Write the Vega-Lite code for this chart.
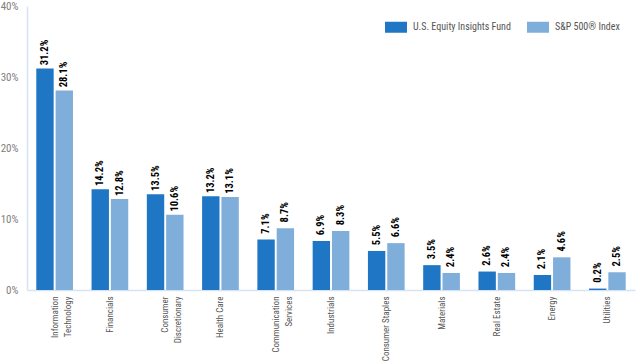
{
  "$schema": "https://vega.github.io/schema/vega-lite/v6.json",
  "autosize": "none",
  "width": 608,
  "height": 284,
  "padding": {"left": 27, "top": 6, "right": 2, "bottom": 71},
  "background": "white",
  "config": {
    "view": {"stroke": null},
    "font": "Liberation Sans Narrow, Roboto Condensed, DejaVu Sans Condensed, sans-serif",
    "axis": {"grid": false, "ticks": false, "domainColor": "#d5e3f3", "domainWidth": 1.5, "labelFont": "Liberation Sans Narrow, Roboto Condensed, DejaVu Sans Condensed, sans-serif", "labelFontSize": 9},
    "legend": {"labelFont": "Liberation Sans Narrow, Roboto Condensed, DejaVu Sans Condensed, sans-serif"}
  },
  "data": {
    "values": [
      {"sector": "Information Technology", "series": "U.S. Equity Insights Fund", "value": 0.312},
      {"sector": "Information Technology", "series": "S&P 500® Index", "value": 0.281},
      {"sector": "Financials", "series": "U.S. Equity Insights Fund", "value": 0.142},
      {"sector": "Financials", "series": "S&P 500® Index", "value": 0.128},
      {"sector": "Consumer Discretionary", "series": "U.S. Equity Insights Fund", "value": 0.135},
      {"sector": "Consumer Discretionary", "series": "S&P 500® Index", "value": 0.106},
      {"sector": "Health Care", "series": "U.S. Equity Insights Fund", "value": 0.132},
      {"sector": "Health Care", "series": "S&P 500® Index", "value": 0.131},
      {"sector": "Communication Services", "series": "U.S. Equity Insights Fund", "value": 0.071},
      {"sector": "Communication Services", "series": "S&P 500® Index", "value": 0.087},
      {"sector": "Industrials", "series": "U.S. Equity Insights Fund", "value": 0.069},
      {"sector": "Industrials", "series": "S&P 500® Index", "value": 0.083},
      {"sector": "Consumer Staples", "series": "U.S. Equity Insights Fund", "value": 0.055},
      {"sector": "Consumer Staples", "series": "S&P 500® Index", "value": 0.066},
      {"sector": "Materials", "series": "U.S. Equity Insights Fund", "value": 0.035},
      {"sector": "Materials", "series": "S&P 500® Index", "value": 0.024},
      {"sector": "Real Estate", "series": "U.S. Equity Insights Fund", "value": 0.026},
      {"sector": "Real Estate", "series": "S&P 500® Index", "value": 0.024},
      {"sector": "Energy", "series": "U.S. Equity Insights Fund", "value": 0.021},
      {"sector": "Energy", "series": "S&P 500® Index", "value": 0.046},
      {"sector": "Utilities", "series": "U.S. Equity Insights Fund", "value": 0.002},
      {"sector": "Utilities", "series": "S&P 500® Index", "value": 0.025}
    ]
  },
  "encoding": {
    "x": {
      "field": "sector", "type": "nominal",
      "sort": ["Information Technology", "Financials", "Consumer Discretionary", "Health Care", "Communication Services", "Industrials", "Consumer Staples", "Materials", "Real Estate", "Energy", "Utilities"],
      "scale": {"paddingInner": 0.336, "paddingOuter": 0.168},
      "axis": {
        "title": null, "labelAngle": 270, "labelPadding": 6, "labelColor": "#555555", "labelLineHeight": 13,
        "labelExpr": "datum.value == 'Information Technology' ? ['Information', 'Technology'] : datum.value == 'Consumer Discretionary' ? ['Consumer', 'Discretionary'] : datum.value == 'Communication Services' ? ['Communication', 'Services'] : datum.value"
      }
    },
    "xOffset": {
      "field": "series", "type": "nominal",
      "sort": ["U.S. Equity Insights Fund", "S&P 500® Index"],
      "scale": {"paddingInner": 0.1}
    },
    "y": {
      "field": "value", "type": "quantitative",
      "scale": {"domain": [0, 0.4], "nice": false},
      "axis": {"title": null, "format": ".0%", "values": [0, 0.1, 0.2, 0.3, 0.4], "labelPadding": 9, "labelColor": "#808080", "labelFontSize": 11}
    }
  },
  "layer": [
    {
      "mark": {"type": "bar"},
      "encoding": {
        "color": {
          "field": "series", "type": "nominal",
          "sort": ["U.S. Equity Insights Fund", "S&P 500® Index"],
          "scale": {"domain": ["U.S. Equity Insights Fund", "S&P 500® Index"], "range": ["#1f76c4", "#80aedb"]},
          "legend": {
            "title": null, "orient": "none", "direction": "horizontal", "legendX": 358, "legendY": 10,
            "padding": 0, "symbolType": "M-1,-0.5H1V0.5H-1Z", "symbolSize": 484, "symbolStrokeWidth": 0,
            "labelOffset": 6, "columnPadding": 16, "labelFontSize": 10, "labelColor": "#555555"
          }
        }
      }
    },
    {
      "mark": {"type": "text", "fontWeight": "bold", "fontSize": 10.5, "yOffset": -16},
      "encoding": {
        "text": {"field": "value", "type": "quantitative", "format": ".1%"},
        "angle": {"value": 270},
        "color": {"value": "black"}
      }
    }
  ]
}
